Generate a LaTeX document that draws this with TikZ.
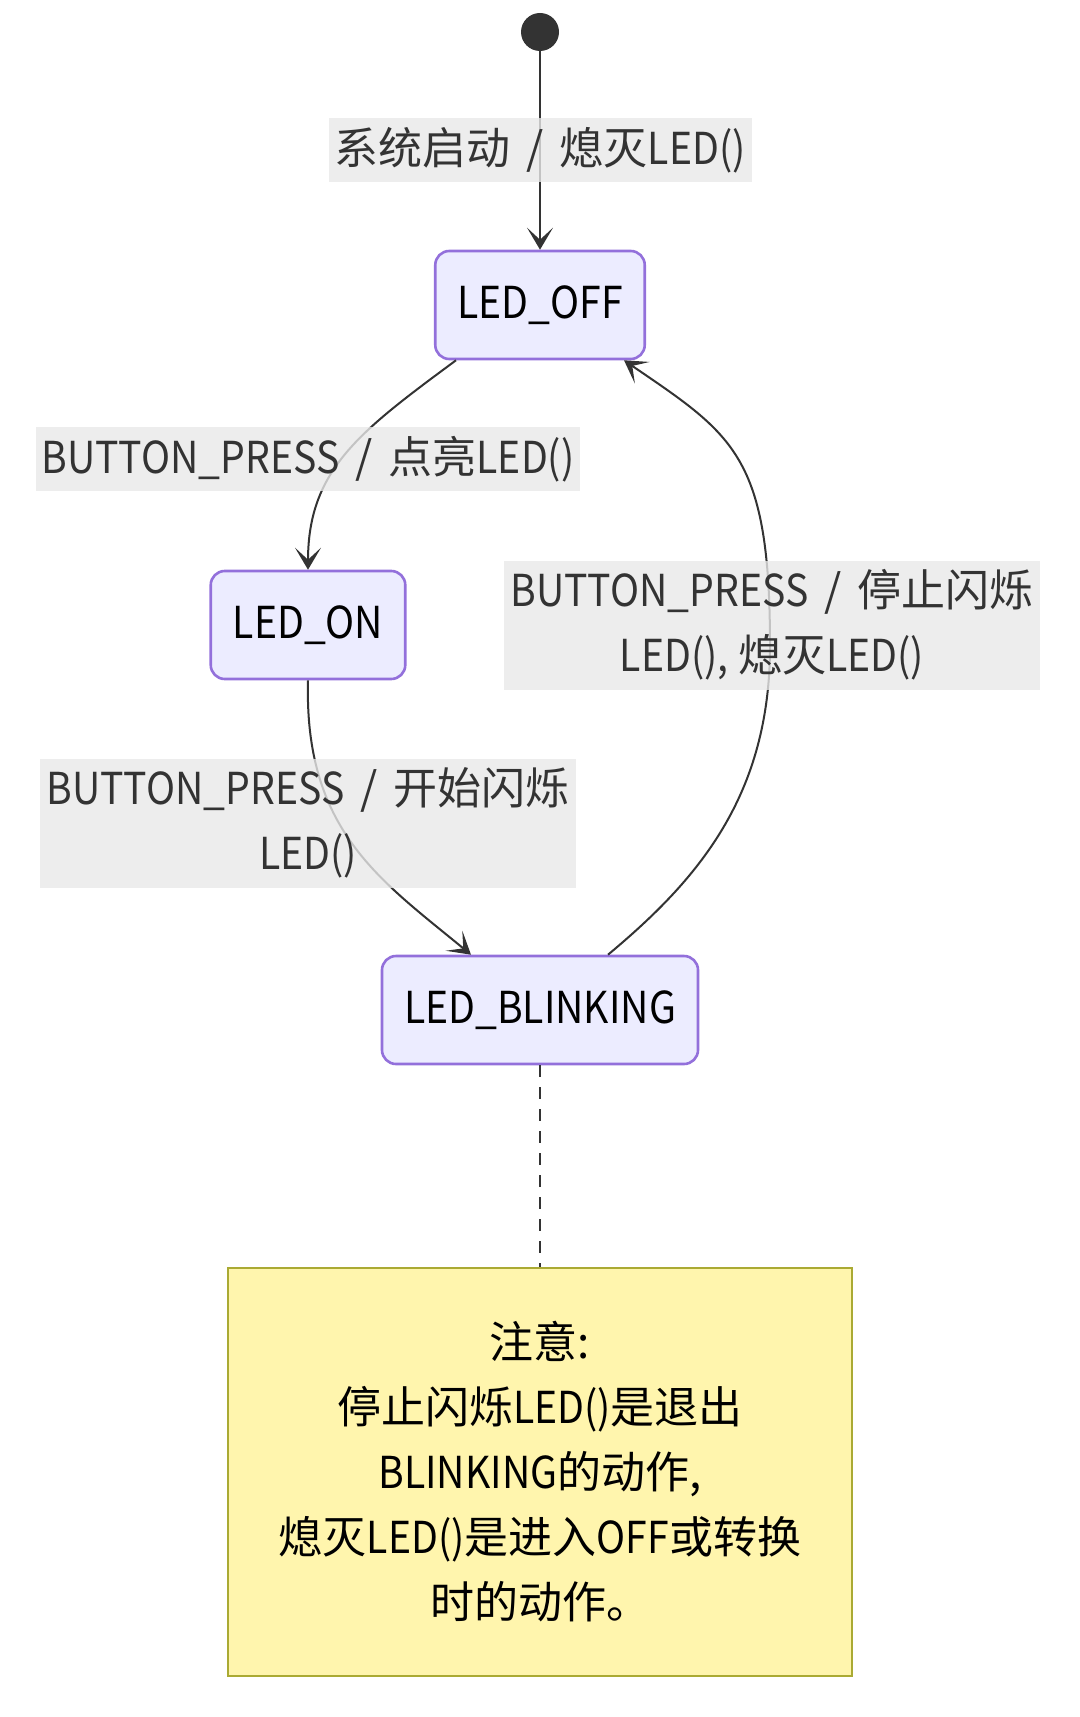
\documentclass[tikz,border=0pt]{standalone}
\usepackage{fontspec}
\setmainfont{Noto Sans CJK SC}
\newfontfamily\latn[FakeStretch=0.89]{Noto Sans CJK SC}
\usetikzlibrary{arrows.meta,positioning}

\definecolor{stateFill}{HTML}{ECECFF}
\definecolor{stateLine}{HTML}{9370DB}
\definecolor{edgeLine}{HTML}{333333}
\definecolor{labelFill}{HTML}{E8E8E8}
\definecolor{noteFill}{HTML}{FFF5AD}
\definecolor{noteLine}{HTML}{AAAA33}

\newcommand\latpart[1]{{\latn #1}}
\newcommand\slashsep{\hspace{8pt}/\hspace{8pt}}

\begin{document}
\begin{tikzpicture}[x=0.5pt,y=-0.5pt,
  every node/.style={font=\fontsize{22pt}{32.5pt}\selectfont},
  state/.style={draw=stateLine,fill=stateFill,line width=1.3pt,rounded corners=7pt,
    minimum height=54pt,inner xsep=11pt,text=black,font=\fontsize{22pt}{32.5pt}\latn},
  trans/.style={draw=edgeLine,line width=1pt,
    -{Stealth[length=11pt,width=13pt,inset=6pt]}},
  evlabel/.style={fill=labelFill,fill opacity=0.8,text opacity=1,text=edgeLine,
    inner xsep=3pt,inner ysep=0pt,minimum height=32pt,align=center},
  notebox/.style={draw=noteLine,fill=noteFill,line width=1.3pt,text=black,
    minimum width=312pt,minimum height=204pt,align=center}]

  \useasboundingbox (0,0) rectangle (1080,1717);

  %% states
  \node[circle,fill=edgeLine,inner sep=0pt,minimum size=19pt] (start) at (540,32) {};
  \node[state] (off) at (540,305) {LED\_OFF};
  \node[state] (on) at (308,625) {LED\_ON};
  \node[state] (blink) at (540,1010) {LED\_BLINKING};

  %% transitions
  \draw[trans] (start) -- (off);
  \draw[trans] ([xshift=-42pt]off.south)
    .. controls +(-96,71) and +(0,-100) .. (on.north);
  \draw[trans] (on.south)
    .. controls +(-4,150) and +(-91,-75) .. ([xshift=-34.5pt]blink.north);
  \draw[trans] ([xshift=34pt]blink.north)
    .. controls +(90,-75) and +(0,150) .. (770,646)
    .. controls +(0,-190) and +(110,75) .. ([xshift=42pt]off.south);

  %% transition labels
  \node[evlabel] (t1) at (540,150) {系统启动\slashsep 熄灭\latpart{LED()}};
  \node[evlabel] (t2) at (308,459) {\latpart{BUTTON\_PRESS}\slashsep 点亮\latpart{LED()}};
  \node[evlabel,minimum height=64.5pt] (t3) at (308,823)
    {\latpart{BUTTON\_PRESS}\slashsep 开始闪烁\\\latpart{LED()}};
  \node[evlabel,minimum height=64.5pt] (t4) at (772,625)
    {\latpart{BUTTON\_PRESS}\slashsep 停止闪烁\\\latpart{LED(),} 熄灭\latpart{LED()}};

  %% note
  \node[notebox] (note) at (540,1472)
    {注意:\\停止闪烁\latpart{LED()}是退出\\\latpart{BLINKING}的动作,\\熄灭\latpart{LED()}是进入\latpart{OFF}或转换\\时的动作。};
  \draw[edgeLine,line width=1pt,dash pattern=on 6pt off 5pt] (blink.south) -- (note.north);

\end{tikzpicture}
\end{document}
